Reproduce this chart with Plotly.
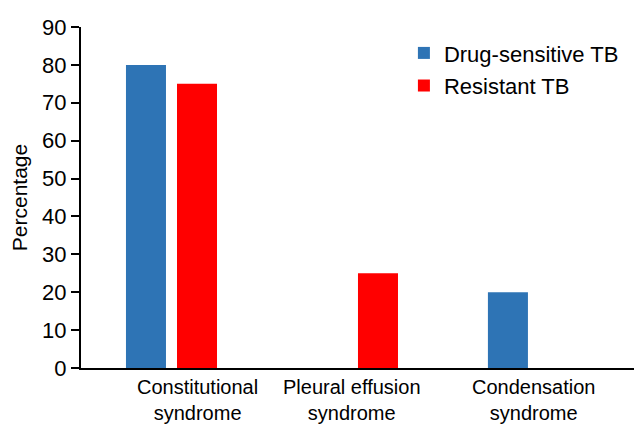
import plotly.graph_objects as go

categories = ["Constitutional<br>syndrome", "Pleural effusion<br>syndrome", "Condensation<br>syndrome"]
sensitive = [80, 0, 20]
resistant = [75, 25, 0]
y_ticks = [0, 10, 20, 30, 40, 50, 60, 70, 80, 90]
label_shift = [26, 0, 0]

FONT = "Liberation Sans, Arial, sans-serif"

fig = go.Figure()
fig.add_trace(go.Bar(x=categories, y=sensitive, name="Drug-sensitive TB",
                     legendgroup="a",
                     marker=dict(color="#2e74b5", line=dict(width=0))))
fig.add_trace(go.Bar(x=categories, y=resistant, name="Resistant TB",
                     legendgroup="b",
                     marker=dict(color="#ff0000", line=dict(width=0))))

for cat, sh in zip(categories, label_shift):
    fig.add_annotation(x=cat, y=0, xref="x", yref="y", text=cat, showarrow=False,
                       xshift=sh, yshift=-6, yanchor="top", xanchor="center",
                       font=dict(size=20, family=FONT, color="black"))

fig.update_layout(
    width=642, height=425,
    margin=dict(l=73, r=0, t=19, b=65),
    paper_bgcolor="white", plot_bgcolor="white",
    barmode="group", bargap=0.436, bargroupgap=0.216,
    font=dict(family=FONT, size=21, color="black"),
    legend=dict(x=0.5675, y=0.985, xanchor="left", yanchor="top",
                font=dict(size=22), bgcolor="rgba(0,0,0,0)",
                traceorder="grouped", tracegroupgap=1),
    xaxis=dict(type="category", range=[-0.5, 2.644], showticklabels=False,
               showline=True, linecolor="black", linewidth=2,
               ticks="", showgrid=False),
    yaxis=dict(range=[0, 90], tickvals=y_ticks, showline=True,
               linecolor="black", linewidth=2, ticks="outside", ticklen=8,
               tickwidth=2, tickcolor="black", showgrid=False, zeroline=False,
               tickfont=dict(size=22),
               title=dict(text="Percentage", font=dict(size=21), standoff=10)),
)

fig.write_html("out.html")
